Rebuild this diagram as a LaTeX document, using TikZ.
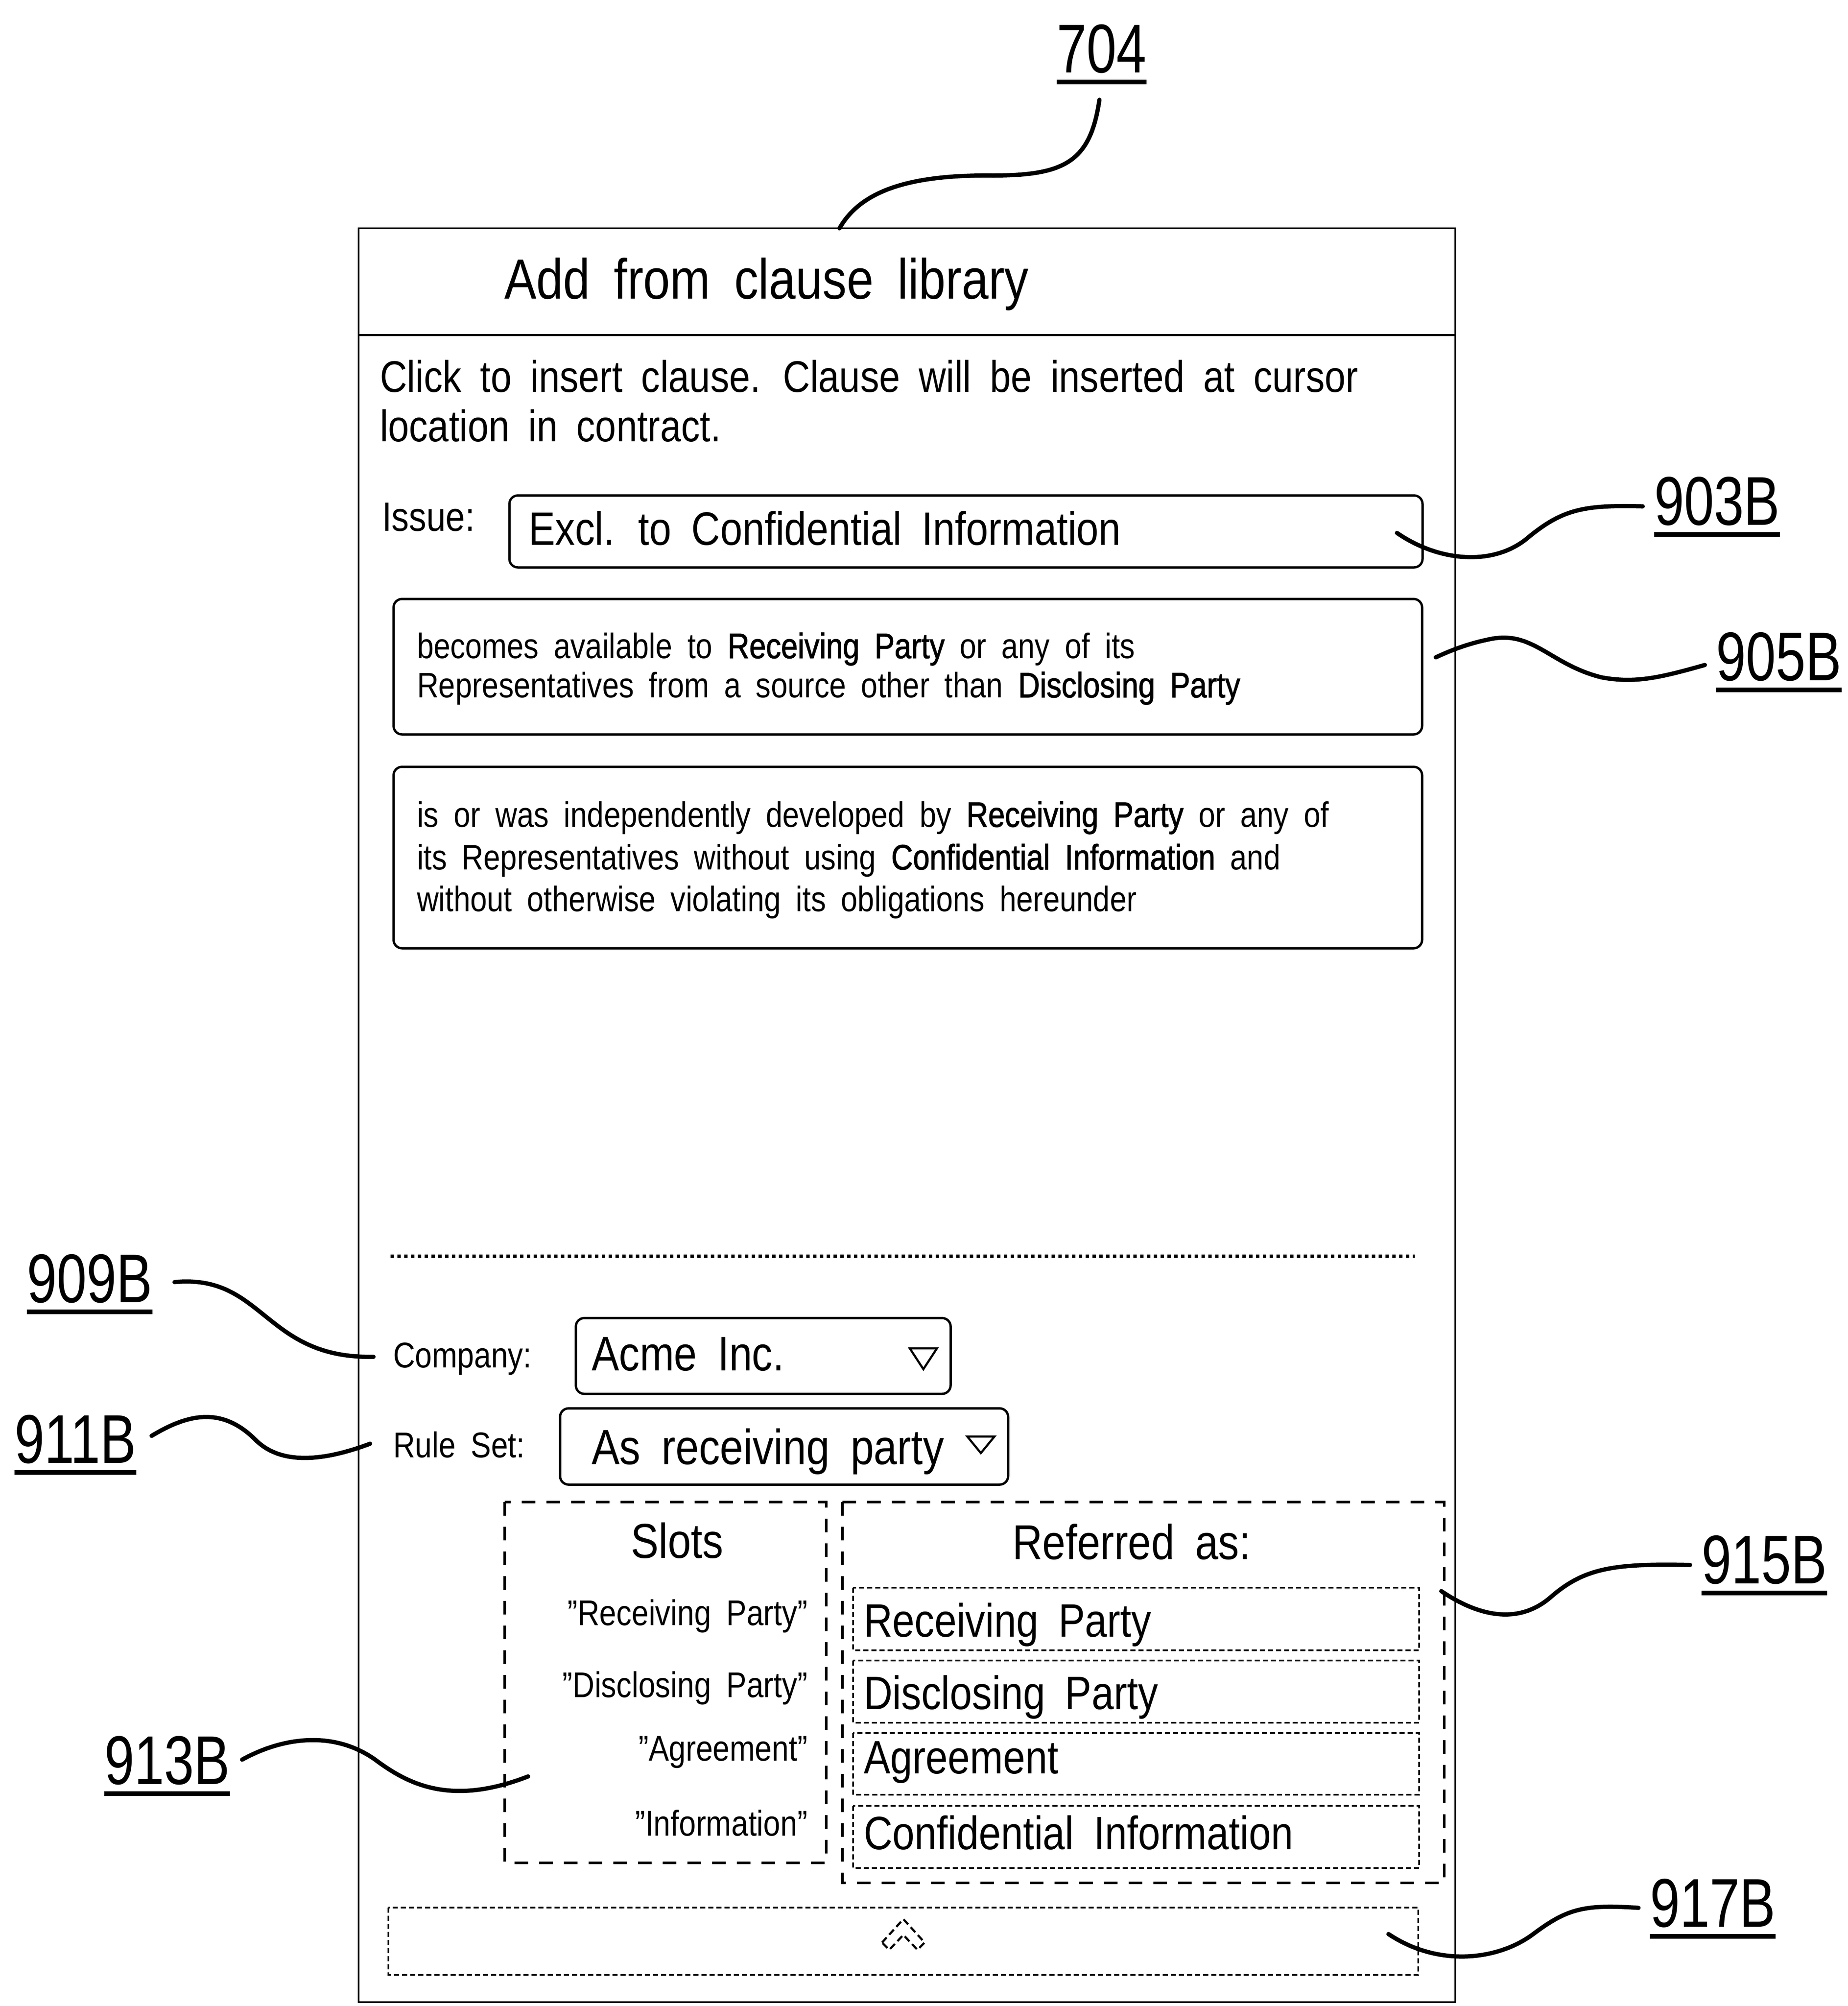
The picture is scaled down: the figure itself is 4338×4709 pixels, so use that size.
\documentclass[tikz,border=0pt]{standalone}
\usepackage{fontspec}
\setmainfont[FakeStretch=0.85,WordSpace=1.8]{Liberation Sans}
\newfontfamily\labelfont[FakeStretch=0.78]{Liberation Sans}
\newfontfamily\heavyfont[FakeStretch=0.85,WordSpace=1.8,FakeBold=1.5]{Liberation Sans}
\newcommand\reflabel[1]{\vtop{\hbox{#1}\kern1.5pt\hrule height 1.1pt}}
\newcommand\hv[1]{{\heavyfont #1}}
\usepackage{tikz}

\begin{document}
\begin{tikzpicture}[x=0.1pt,y=0.1pt,yscale=-1,xscale=1,
  txt/.style={anchor=base west,inner sep=0pt},
  reflbl/.style={anchor=base west,inner sep=0pt,font=\labelfont\fontsize{16.2}{18}\selectfont},
  leader/.style={line width=1pt,line cap=round},
  field/.style={line width=0.55pt,rounded corners=2pt},
  slotbox/.style={line width=0.6pt,dash pattern=on 3.2pt off 2.6pt},
  entrybox/.style={line width=0.45pt,dash pattern=on 1.2pt off 0.7pt},
  slotitem/.style={anchor=base east,inner sep=0pt,font=\fontsize{8.4}{10}\selectfont},
  entrytxt/.style={anchor=base west,inner sep=0pt,font=\fontsize{11}{13}\selectfont}]
                  \useasboundingbox (0,0) rectangle (4338,4709);

                  %Shape: Rectangle [frame]
                  \draw  [line width=0.4pt]  (842,536) rectangle (3417,4700) ;
                  %Straight Lines [title divider]
                  \draw  [line width=0.5pt]  (842,786) -- (3417,786) ;
                  %Shape: Rounded Rect [issue field]
                  \draw  [field]  (1196,1163) rectangle (3340,1332) ;
                  %Shape: Rounded Rect [first clause]
                  \draw  [field]  (924,1406) rectangle (3339,1724) ;
                  %Shape: Rounded Rect [second clause]
                  \draw  [field]  (924,1800) rectangle (3339,2226) ;
                  %Straight Lines [separator]
                  \draw  [line width=0.8pt,dash pattern=on 0.8pt off 0.8pt]  (917,2949) -- (3322,2949) ;
                  %Shape: Rounded Rect [company field]
                  \draw  [field]  (1352,3094) rectangle (2232,3272) ;
                  \draw  [line width=0.5pt]  (2136,3165) -- (2200,3165) -- (2168,3214) -- cycle ;
                  %Shape: Rounded Rect [rule set field]
                  \draw  [field]  (1315,3306) rectangle (2367,3485) ;
                  \draw  [line width=0.5pt]  (2271,3372) -- (2335,3372) -- (2303,3411) -- cycle ;
                  %Shape: Rectangle [slots]
                  \draw  [slotbox]  (1185,3526) rectangle (1940,4373) ;
                  %Shape: Rectangle [referred as]
                  \draw  [slotbox]  (1978,3526) rectangle (3391,4420) ;
                  %Shape: Rectangle [entries]
                  \draw  [entrybox]  (2003,3727) rectangle (3332,3874) ;
                  \draw  [entrybox]  (2003,3898) rectangle (3332,4044) ;
                  \draw  [entrybox]  (2003,4068) rectangle (3332,4213) ;
                  \draw  [entrybox]  (2003,4239) rectangle (3332,4385) ;
                  %Shape: Rectangle [collapse bar]
                  \draw  [entrybox]  (912,4478) rectangle (3330,4636) ;
                  %Shape: Polygon [chevron]
                  \draw  [line width=0.5pt,dash pattern=on 1.6pt off 0.9pt]  (2071,4560) -- (2121,4505) -- (2171,4560) -- (2154,4577) -- (2121,4542) -- (2088,4577) -- cycle ;

                  % Text Node
                  \draw (1182,701) node (title) [txt,font=\fontsize{13.3}{15}\selectfont] {Add from clause library};
                  % Text Node
                  \draw (890,920) node (hint1) [txt,font=\fontsize{10.4}{12}\selectfont] {Click to insert clause. Clause will be inserted at cursor};
                  \draw (890,1036) node (hint2) [txt,font=\fontsize{10.4}{12}\selectfont] {location in contract.};
                  % Text Node
                  \draw (895,1246) node (issue) [txt,font=\fontsize{9.6}{11}\selectfont] {Issue:};
                  \draw (1239,1279) node (issueval) [txt,font=\fontsize{11}{13}\selectfont] {Excl. to Confidential Information};
                  % Text Node
                  \draw (977,1545) node (cla1) [txt,font=\fontsize{8.3}{9}\selectfont] {becomes available to \hv{Receiving Party} or any of its};
                  \draw (977,1637) node (cla2) [txt,font=\fontsize{8.3}{9}\selectfont] {Representatives from a source other than \hv{Disclosing Party}};
                  % Text Node
                  \draw (977,1941) node (clb1) [txt,font=\fontsize{8.3}{9}\selectfont] {is or was independently developed by \hv{Receiving Party} or any of};
                  \draw (977,2041) node (clb2) [txt,font=\fontsize{8.3}{9}\selectfont] {its Representatives without using \hv{Confidential Information} and};
                  \draw (977,2139) node (clb3) [txt,font=\fontsize{8.3}{9}\selectfont] {without otherwise violating its obligations hereunder};
                  % Text Node
                  \draw (921,3210) node (company) [txt,font=\fontsize{8.4}{10}\selectfont] {Company:};
                  \draw (1387,3217) node (companyval) [txt,font=\fontsize{11.4}{13}\selectfont] {Acme Inc.};
                  \draw (921,3421) node (ruleset) [txt,font=\fontsize{8.4}{10}\selectfont] {Rule Set:};
                  \draw (1387,3437) node (rulesetval) [txt,font=\fontsize{11.6}{13}\selectfont] {As receiving party};
                  % Text Node
                  \draw (1590,3657) node (slots) [anchor=base,inner sep=0pt,font=\fontsize{11.5}{13}\selectfont] {Slots};
                  \draw (2657,3660) node (referred) [anchor=base,inner sep=0pt,font=\fontsize{11.5}{13}\selectfont] {Referred as:};
                  % Text Node
                  \draw (1898,3815) node (slot1) [slotitem] {"Receiving Party"};
                  \draw (1898,3984) node (slot2) [slotitem] {"Disclosing Party"};
                  \draw (1898,4133) node (slot3) [slotitem] {"Agreement"};
                  \draw (1898,4309) node (slot4) [slotitem] {"Information"};
                  % Text Node
                  \draw (2026,3842) node (entry1) [entrytxt] {Receiving Party};
                  \draw (2026,4012) node (entry2) [entrytxt] {Disclosing Party};
                  \draw (2026,4163) node (entry3) [entrytxt] {Agreement};
                  \draw (2026,4341) node (entry4) [entrytxt] {Confidential Information};

                  % Reference labels
                  \draw (2479,170) node (l704) [reflbl] {\reflabel{704}};
                  \draw (3882,1232) node (l903) [reflbl] {\reflabel{903B}};
                  \draw (4027,1597) node (l905) [reflbl] {\reflabel{905B}};
                  \draw (61,3057) node (l909) [reflbl] {\reflabel{909B}};
                  \draw (32,3434) node (l911) [reflbl] {\reflabel{911B}};
                  \draw (243,4188) node (l913) [reflbl] {\reflabel{913B}};
                  \draw (3993,3717) node (l915) [reflbl] {\reflabel{915B}};
                  \draw (3872,4523) node (l917) [reflbl] {\reflabel{917B}};

                  \coordinate (c704) at (1971,536);
                  \coordinate (c903) at (3280,1251);
                  \coordinate (c905) at (3371,1543);
                  \coordinate (c909) at (877,3185);
                  \coordinate (c911) at (869,3389);
                  \coordinate (c913) at (1240,4170);
                  \coordinate (c915) at (3384,3735);
                  \coordinate (c917) at (3260,4540);

                  %Curve Lines [leaders]
                  \draw [leader,shorten <=3.5pt]  (l704.south) .. controls (2560,380) and (2500,412) .. (2330,412) .. controls (2130,410) and (2020,450) .. (c704) ;
                  \draw [leader,shorten <=2.5pt]  (l903.west) .. controls (3720,1185) and (3670,1195) .. (3590,1260) .. controls (3510,1330) and (3380,1320) .. (c903) ;
                  \draw [leader,shorten <=2.5pt]  (l905.west) .. controls (3900,1590) and (3840,1605) .. (3760,1590) .. controls (3640,1560) and (3600,1480) .. (3500,1500) .. controls (3440,1512) and (3400,1530) .. (c905) ;
                  \draw [leader,shorten <=5pt]  (l909.east) .. controls (620,2990) and (620,3190) .. (c909) ;
                  \draw [leader,shorten <=4pt]  (l911.east) .. controls (440,3320) and (520,3300) .. (600,3380) .. controls (660,3440) and (760,3430) .. (c911) ;
                  \draw [leader,shorten <=3pt]  (l913.east) .. controls (660,4080) and (780,4060) .. (880,4130) .. controls (960,4190) and (1060,4240) .. (c913) ;
                  \draw [leader,shorten <=2.5pt]  (l915.west) .. controls (3790,3670) and (3720,3680) .. (3640,3750) .. controls (3570,3810) and (3480,3800) .. (c915) ;
                  \draw [leader,shorten <=2.5pt]  (l917.west) .. controls (3720,4470) and (3680,4480) .. (3600,4540) .. controls (3520,4600) and (3380,4620) .. (c917) ;

\end{tikzpicture}
\end{document}
